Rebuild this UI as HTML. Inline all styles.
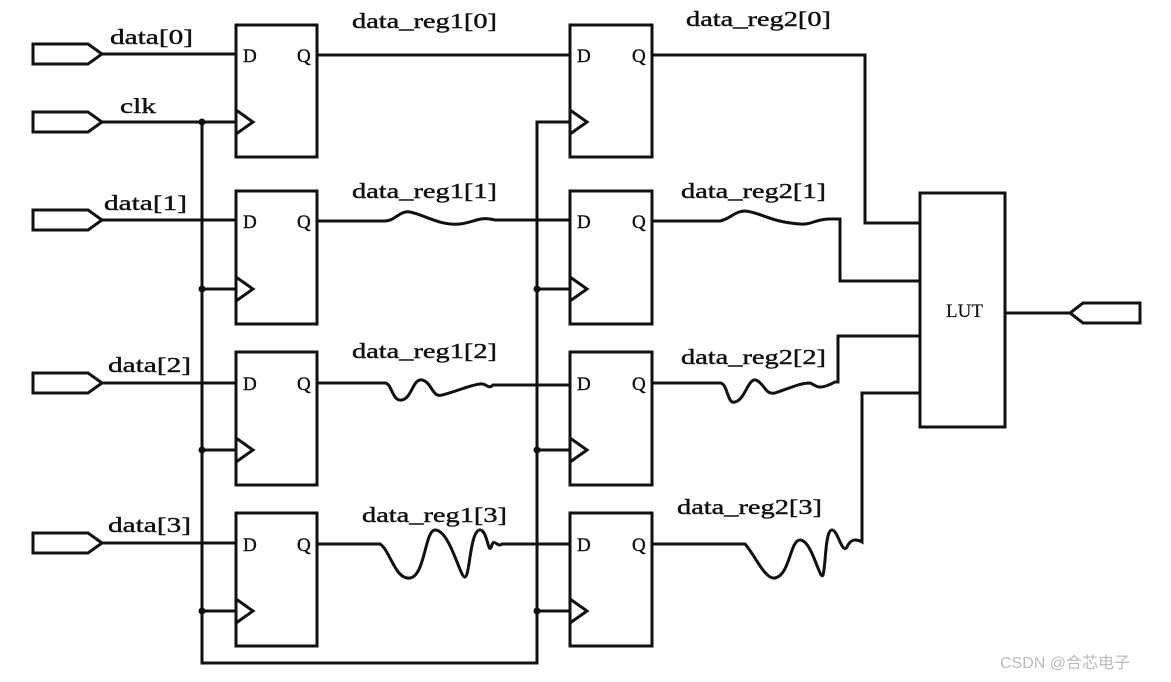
<!DOCTYPE html>
<html><head><style>body{margin:0;background:#fff}svg{display:block}</style></head><body>
<svg width="1171" height="682" viewBox="0 0 1171 682" xmlns="http://www.w3.org/2000/svg">
<g fill="none" stroke="#111" stroke-width="3">
<path d="M33 44 H88 L102 54 L88 64 H33 Z"/>
<path d="M33 112 H88 L102 122 L88 132 H33 Z"/>
<path d="M33 210 H88 L102 220 L88 230 H33 Z"/>
<path d="M33 373 H88 L102 383 L88 393 H33 Z"/>
<path d="M33 533 H88 L102 543 L88 553 H33 Z"/>
<path d="M1140 303 H1083 L1070 313 L1083 323 H1140 Z"/>
<rect x="236" y="25" width="81" height="132"/>
<rect x="236" y="191" width="81" height="133"/>
<rect x="236" y="352" width="81" height="133"/>
<rect x="236" y="513" width="81" height="133"/>
<rect x="570" y="25" width="82" height="132"/>
<rect x="570" y="191" width="82" height="133"/>
<rect x="570" y="352" width="82" height="133"/>
<rect x="570" y="513" width="82" height="133"/>
<path d="M236 110 L253 122 L236 134"/><path d="M236 277 L253 289 L236 301"/>
<path d="M236 438 L253 450 L236 462"/><path d="M236 599 L253 611 L236 623"/>
<path d="M570 110 L587 122 L570 134"/><path d="M570 277 L587 289 L570 301"/>
<path d="M570 438 L587 450 L570 462"/><path d="M570 599 L587 611 L570 623"/>
<rect x="920" y="193" width="85" height="234"/>
<path d="M1005 313 H1070"/>
<path d="M102 54 H236 M102 220 H236 M102 383 H236 M102 543 H236 M102 122 H236"/>
<path d="M202 122 V663 H537 V122 H570"/>
<path d="M202 289 H236 M202 450 H236 M202 611 H236 M537 289 H570 M537 450 H570 M537 611 H570"/>
<path d="M317 55 H570"/>
<path d="M317 221 H385 C395 221 400 210 410 212 C425 215 440 226 460 224 C475 222 480 216 495 220 H570"/>
<path d="M317 383 H385 C392 383 392 402 402 400 C412 398 413 378 422 380 C432 382 432 398 442 395 C455 392 470 385 480 384 C487 383 488 390 493 385 H570"/>
<path d="M317 544 H380 C390 550 395 580 410 578 C425 576 425 530 435 530 C450 530 460 578 465 577 C470 576 470 530 480 530 C488 530 488 558 492 545 C494 538 498 548 502 544 H570"/>
<path d="M652 55 H865 V223 H920"/>
<path d="M652 221 H720 C730 219 735 211 745 211 C760 212 770 222 800 224 C812 225 815 219 830 219 H840 V281 H920"/>
<path d="M652 383 H720 C728 383 727 405 735 402 C745 400 748 378 756 380 C765 384 765 395 775 393 C790 388 800 383 810 383 C815 384 817 392 835 382 H838 V336 H920"/>
<path d="M652 544 H745 C755 555 765 580 775 578 C790 575 790 540 800 540 C812 540 820 582 823 575 C826 565 825 530 832 530 C838 530 842 555 847 547 C850 540 855 538 862 542 V393 H920"/>
</g>
<g fill="#111"><circle cx="202" cy="122" r="3.5"/><circle cx="202" cy="289" r="3.5"/><circle cx="202" cy="450" r="3.5"/><circle cx="202" cy="611" r="3.5"/>
<circle cx="537" cy="289" r="3.5"/><circle cx="537" cy="450" r="3.5"/><circle cx="537" cy="611" r="3.5"/></g>
<g font-family="Liberation Serif, serif" font-size="21" fill="#111" stroke="#111" stroke-width="0.4" lengthAdjust="spacingAndGlyphs">
<text x="110" y="44" textLength="83" lengthAdjust="spacingAndGlyphs">data[0]</text>
<text x="120" y="113" textLength="36" lengthAdjust="spacingAndGlyphs">clk</text>
<text x="104" y="210" textLength="83" lengthAdjust="spacingAndGlyphs">data[1]</text>
<text x="108" y="372" textLength="83" lengthAdjust="spacingAndGlyphs">data[2]</text>
<text x="108" y="532" textLength="83" lengthAdjust="spacingAndGlyphs">data[3]</text>
<text x="352" y="28" textLength="145" lengthAdjust="spacingAndGlyphs">data_reg1[0]</text>
<text x="352" y="198" textLength="145" lengthAdjust="spacingAndGlyphs">data_reg1[1]</text>
<text x="352" y="358" textLength="145" lengthAdjust="spacingAndGlyphs">data_reg1[2]</text>
<text x="362" y="522" textLength="145" lengthAdjust="spacingAndGlyphs">data_reg1[3]</text>
<text x="686" y="26" textLength="145" lengthAdjust="spacingAndGlyphs">data_reg2[0]</text>
<text x="681" y="198" textLength="145" lengthAdjust="spacingAndGlyphs">data_reg2[1]</text>
<text x="681" y="364" textLength="145" lengthAdjust="spacingAndGlyphs">data_reg2[2]</text>
<text x="677" y="514" textLength="145" lengthAdjust="spacingAndGlyphs">data_reg2[3]</text>
<g font-size="19"><text x="243" y="62">D</text><text x="297" y="62">Q</text><text x="243" y="228">D</text><text x="297" y="228">Q</text>
<text x="243" y="390">D</text><text x="297" y="390">Q</text><text x="243" y="551">D</text><text x="297" y="551">Q</text>
<text x="577" y="62">D</text><text x="632" y="62">Q</text><text x="577" y="228">D</text><text x="632" y="228">Q</text>
<text x="577" y="390">D</text><text x="632" y="390">Q</text><text x="577" y="551">D</text><text x="632" y="551">Q</text></g>
<text x="946" y="317" font-size="19" stroke-width="0.2">LUT</text>
</g>
<text x="1000" y="668" font-family="Liberation Sans, 'Noto Sans CJK SC', sans-serif" font-size="16" fill="#bbb">CSDN @合芯电子</text>
</svg>
</body></html>
